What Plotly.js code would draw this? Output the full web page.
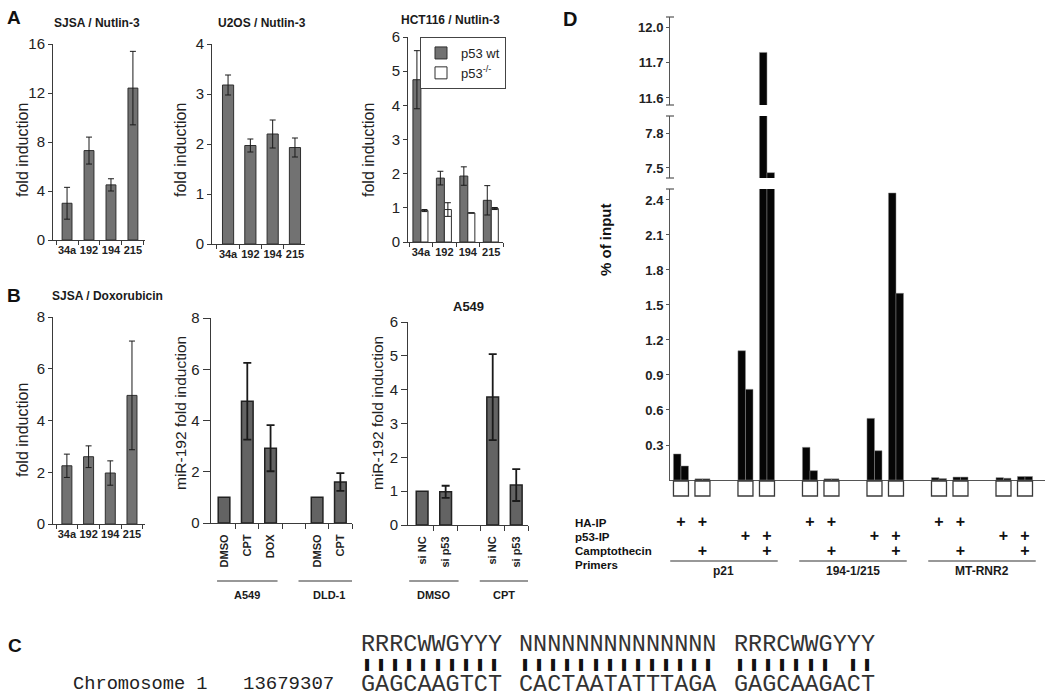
<!DOCTYPE html>
<html><head><meta charset="utf-8">
<script src="https://cdn.plot.ly/plotly-3.0.1.min.js"></script>
<style>html,body{margin:0;padding:0;background:#fff}#chart{width:1050px;height:699px}</style>
</head><body><div id="chart"></div>
<script>
// ---------------- data ----------------
const mirs = ['34a', '192', '194', '215'];
const sjsaNutlin = [3.0, 7.3, 4.5, 12.4];
const sjsaNutlinErr = [1.3, 1.1, 0.5, 3.0];
const u2osNutlin = [3.18, 1.97, 2.2, 1.93];
const u2osNutlinErr = [0.2, 0.13, 0.28, 0.19];
const hctWt = [4.75, 1.87, 1.93, 1.22];
const hctWtErr = [0.85, 0.2, 0.27, 0.43];
const hctNull = [0.92, 0.95, 0.85, 0.98];
const hctNullErr = [0.03, 0.2, 0.0, 0.03];
const sjsaDox = [2.25, 2.6, 1.97, 4.97];
const sjsaDoxErr = [0.45, 0.42, 0.47, 2.1];
const drugTreat = ['DMSO', 'CPT', 'DOX', 'DMSO', 'CPT'];
const drugCell = ['A549', 'A549', 'A549', 'DLD-1', 'DLD-1'];
const mir192Drug = [1.0, 4.75, 2.92, 1.0, 1.6];
const mir192DrugErr = [null, 1.5, 0.9, null, 0.35];
const siRNA = ['si NC', 'si p53', 'si NC', 'si p53'];
const siTreat = ['DMSO', 'DMSO', 'CPT', 'CPT'];
const mir192Si = [1.0, 0.98, 3.78, 1.18];
const mir192SiErr = [null, 0.18, 1.27, 0.47];
const chipPrimers = ['p21', '194-1/215', 'MT-RNR2'];
const chipHA = [1, 1, 0, 0];
const chipP53 = [0, 0, 1, 1];
const chipCPT = [0, 1, 0, 1];
const chipRep1 = [0.223, 0.01, 1.108, 11.73, 0.28, 0.01, 0.528, 2.46, 0.02, 0.025, 0.02, 0.03];
const chipRep2 = [0.12, 0.01, 0.777, 7.46, 0.08, 0.01, 0.251, 1.6, 0.012, 0.025, 0.015, 0.03];
const motif = ['RRRCWWGYYY', 'NNNNNNNNNNNNNN', 'RRRCWWGYYY'];
const genomic = ['GAGCAAGTCT', 'CACTAATATTTAGA', 'GAGCAAGACT'];
const chromLabel = 'Chromosome 1';
const chromPos = '13679307';

// ---------------- helpers ----------------
const W = 1050, H = 699;
const xd = (a, b) => [a / W, b / W];
const yd = (t, b) => [1 - b / H, 1 - t / H];
const PX = x => x / W, PY = y => 1 - y / H;
const FONT = 'Liberation Sans, Arial, sans-serif';
const MONO = 'Liberation Mono, Courier New, monospace';
const nanify = a => a.map(v => v == null ? NaN : v);

function groupPositions(groups) {
  let g = -1, prev = null; const pos = [];
  groups.forEach((v, i) => { if (v !== prev) { g++; prev = v; } pos.push(i + g); });
  return pos;
}

function bar(x, y, err, xa, ya, extra) {
  const t = {
    type: 'bar', x: x, y: y, xaxis: xa, yaxis: ya, showlegend: false,
    marker: {color: '#727272', line: {color: '#2e2e2e', width: 1}},
    error_y: {type: 'data', array: nanify(err), visible: true, color: '#1a1a1a', thickness: 1, width: 3}
  };
  return Object.assign(t, extra || {});
}

const baseAx = {
  showline: true, linecolor: '#3a3a3a', linewidth: 1, showgrid: false, zeroline: false,
  ticks: 'outside', tickcolor: '#3a3a3a', ticklen: 4,
  tickfont: {family: FONT, size: 15, color: '#222'}
};
const catAx = Object.assign({}, baseAx, {
  type: 'category', categoryorder: 'array', categoryarray: mirs, tickson: 'boundaries',
  ticklen: 4, tickangle: 0, tickfont: {family: FONT, size: 11, color: '#222', weight: 'bold'}
});

const traces = [];
// A1
traces.push(bar(mirs, sjsaNutlin, sjsaNutlinErr, 'x', 'y', {width: 0.45}));
// A2
traces.push(bar(mirs, u2osNutlin, u2osNutlinErr, 'x2', 'y2', {width: 0.5}));
// A3
traces.push(bar(mirs, hctWt, hctWtErr, 'x3', 'y3', {width: 0.34, offset: -0.34, name: 'p53 wt', showlegend: true}));
traces.push(bar(mirs, hctNull, hctNullErr, 'x3', 'y3', {width: 0.3, offset: 0, name: 'p53<sup>-/-</sup>', showlegend: true,
  marker: {color: '#ffffff', line: {color: '#2e2e2e', width: 1}}}));
// B1
traces.push(bar(mirs, sjsaDox, sjsaDoxErr, 'x4', 'y4', {width: 0.46}));
// B2
const drugPos = groupPositions(drugCell);
traces.push(bar(drugPos, mir192Drug, mir192DrugErr, 'x5', 'y5', {width: 0.5,
  marker: {color: '#636363', line: {color: '#222', width: 1.5}},
  error_y: {type: 'data', array: nanify(mir192DrugErr), visible: true, color: '#1a1a1a', thickness: 1.8, width: 4}}));
// B3
const siPos = groupPositions(siTreat);
traces.push(bar(siPos, mir192Si, mir192SiErr, 'x6', 'y6', {width: 0.5,
  marker: {color: '#636363', line: {color: '#222', width: 1.5}},
  error_y: {type: 'data', array: nanify(mir192SiErr), visible: true, color: '#1a1a1a', thickness: 1.8, width: 4}}));

// D
const condSlot = chipHA.map((h, k) => k + chipP53[k]);
const groupStride = condSlot[condSlot.length - 1] + 2;
const chipX = [], chipGroup = [], flagHA = [], flagP53 = [], flagCPT = [];
chipPrimers.forEach((p, g) => condSlot.forEach((s, k) => {
  chipX.push(g * groupStride + s); chipGroup.push(p);
  flagHA.push(chipHA[k]); flagP53.push(chipP53[k]); flagCPT.push(chipCPT[k]);
}));
['y7', 'y8', 'y9'].forEach(ya => {
  [[chipRep1, -0.35], [chipRep2, 0]].forEach(([vals, off]) => {
    traces.push({type: 'bar', x: chipX, y: vals, xaxis: 'x7', yaxis: ya, width: 0.35, offset: off,
      showlegend: false, marker: {color: '#060606', line: {color: '#8a8a8a', width: 0.5}}});
  });
});
// rows below the ChIP axis live on a hidden helper axis (y10) measured in page rows
traces.push({type: 'scatter', mode: 'markers', x: chipX, y: chipX.map(() => 488.5), xaxis: 'x7', yaxis: 'y10',
  showlegend: false, hoverinfo: 'skip',
  marker: {symbol: 'square-open', size: 15, color: '#3a3a3a', line: {width: 1.3}}});
[[flagHA, 523], [flagP53, 537], [flagCPT, 552]].forEach(([flags, py]) => {
  const xs = chipX.filter((x, i) => flags[i]);
  traces.push({type: 'scatter', mode: 'text', x: xs, y: xs.map(() => py), text: xs.map(() => '<b>+</b>'),
    xaxis: 'x7', yaxis: 'y10', cliponaxis: false, showlegend: false, hoverinfo: 'skip',
    textfont: {family: FONT, size: 16, color: '#111'}});
});

// ---------------- layout ----------------
const dAx = Object.assign({}, baseAx, {ticklen: 3, linecolor: '#555', tickcolor: '#555',
  tickfont: {family: FONT, size: 13, color: '#222', weight: 'bold'}, anchor: 'x7'});
const bdry = pos => { const m = Math.max(...pos); const out = []; for (let i = 0; i <= m; i++) out.push(i + 0.5); return out; };
const rotAx = (pos, labels) => Object.assign({}, baseAx, {
  type: 'linear', tickmode: 'array', tickvals: pos, ticktext: labels, ticks: '', tickangle: -90,
  tickfont: {family: FONT, size: 11, color: '#222', weight: 'bold'}, ticklabelstandoff: 6,
  minor: {tickmode: 'array', tickvals: bdry(pos), ticks: 'outside', ticklen: 5, tickcolor: '#3a3a3a'}
});

const layout = {
  width: W, height: H, margin: {l: 0, r: 0, t: 0, b: 0},
  paper_bgcolor: '#ffffff', plot_bgcolor: 'rgba(0,0,0,0)',
  font: {family: FONT, color: '#222'},
  barmode: 'overlay', showlegend: true,
  legend: {x: PX(420), y: PY(37), xanchor: 'left', yanchor: 'top', bgcolor: '#fff', bordercolor: '#444', borderwidth: 1,
    font: {family: FONT, size: 13, color: '#222'}, itemwidth: 30, tracegroupgap: 0},
  xaxis: Object.assign({}, catAx, {domain: xd(53, 145), anchor: 'y', range: [-0.64, 3.55]}),
  yaxis: Object.assign({}, baseAx, {domain: yd(44, 240), anchor: 'x', range: [0, 16], dtick: 4}),
  xaxis2: Object.assign({}, catAx, {domain: xd(212, 305), anchor: 'y2', range: [-0.72, 3.45]}),
  yaxis2: Object.assign({}, baseAx, {domain: yd(44, 244), anchor: 'x2', range: [0, 4], dtick: 1}),
  xaxis3: Object.assign({}, catAx, {domain: xd(408, 503), anchor: 'y3', range: [-0.55, 3.5]}),
  yaxis3: Object.assign({}, baseAx, {domain: yd(37, 242), anchor: 'x3', range: [0, 6], dtick: 1}),
  xaxis4: Object.assign({}, catAx, {domain: xd(53, 145), anchor: 'y4', range: [-0.64, 3.6]}),
  yaxis4: Object.assign({}, baseAx, {domain: yd(317, 524), anchor: 'x4', range: [0, 8], dtick: 2}),
  xaxis5: Object.assign(rotAx(drugPos, drugTreat), {domain: xd(211, 352), anchor: 'y5', range: [-0.56, 5.5]}),
  yaxis5: Object.assign({}, baseAx, {domain: yd(318, 523), anchor: 'x5', range: [0, 8], dtick: 2, ticklen: 7, linewidth: 1.3}),
  xaxis6: Object.assign(rotAx(siPos, siRNA), {domain: xd(408, 528), anchor: 'y6', range: [-0.6, 4.5]}),
  yaxis6: Object.assign({}, baseAx, {domain: yd(322, 525), anchor: 'x6', range: [0, 6], dtick: 1, ticklen: 6}),
  xaxis7: {domain: xd(670, 1045), anchor: 'y7', range: [-0.51, 16.93], showline: true, linecolor: '#555', linewidth: 1.2,
    showticklabels: false, ticks: '', showgrid: false, zeroline: false},
  yaxis7: Object.assign({}, dAx, {domain: yd(189, 480), range: [0, 2.494], tickmode: 'array',
    tickvals: [0.3, 0.6, 0.9, 1.2, 1.5, 1.8, 2.1, 2.4], ticktext: ['0.3', '0.6', '0.9', '1.2', '1.5', '1.8', '2.1', '2.4']}),
  yaxis8: Object.assign({}, dAx, {domain: yd(116, 178), range: [7.414, 7.946], tickmode: 'array',
    tickvals: [7.5, 7.8], ticktext: ['7.5', '7.8']}),
  yaxis9: Object.assign({}, dAx, {domain: yd(17, 105), range: [11.58, 11.831], tickmode: 'array',
    tickvals: [11.6, 11.7, 11.8], ticktext: ['11.6', '11.7', '12.0']}),
  yaxis10: {domain: yd(480, 580), range: [580, 480], anchor: 'x7', visible: false, showgrid: false, zeroline: false},
  annotations: [], shapes: []
};

const A = layout.annotations, S = layout.shapes;
function ann(text, x, y, opts) {
  A.push(Object.assign({text: text, x: PX(x), y: PY(y), xref: 'paper', yref: 'paper', showarrow: false,
    xanchor: 'center', yanchor: 'middle', font: {family: FONT, size: 12, color: '#1a1a1a'}}, opts || {}));
}
// panel letters
ann('<b>A</b>', 14, 18, {font: {family: FONT, size: 19, color: '#111'}});
ann('<b>B</b>', 14, 295, {font: {family: FONT, size: 19, color: '#111'}});
ann('<b>C</b>', 15, 645, {font: {family: FONT, size: 19, color: '#111'}});
ann('<b>D</b>', 570, 19, {font: {family: FONT, size: 20, color: '#111'}});
// titles
ann('<b>SJSA / Nutlin-3</b>', 97, 23);
ann('<b>U2OS / Nutlin-3</b>', 262, 23);
ann('<b>HCT116 / Nutlin-3</b>', 450, 20);
ann('<b>SJSA / Doxorubicin</b>', 107, 296);
ann('<b>A549</b>', 468, 307, {font: {family: FONT, size: 13, color: '#1a1a1a'}});
// y titles
const yt = {textangle: -90, font: {family: FONT, size: 16, color: '#222'}};
ann('fold induction', 22, 150, yt);
ann('fold induction', 180, 150, yt);
ann('fold induction', 368, 150, yt);
ann('fold induction', 22, 430, yt);
ann('miR-192 fold induction', 180, 413, {textangle: -90, font: {family: FONT, size: 15.5, color: '#222'}});
ann('miR-192 fold induction', 377, 413, {textangle: -90, font: {family: FONT, size: 15.5, color: '#222'}});
ann('<b>% of input</b>', 605, 240, {textangle: -90, font: {family: FONT, size: 15, color: '#111'}});

// group underlines + labels for B2, B3
function groupLines(groups, pos, xref, half, lineY, labY) {
  const uniq = [...new Set(groups)];
  uniq.forEach(g => {
    const ps = pos.filter((p, i) => groups[i] === g);
    const c = (Math.min(...ps) + Math.max(...ps)) / 2;
    S.push({type: 'line', xref: xref, yref: 'paper', x0: c - half, x1: c + half, y0: PY(lineY), y1: PY(lineY),
      line: {color: '#333', width: 1.2}});
    A.push({text: '<b>' + g + '</b>', x: c, y: PY(labY), xref: xref, yref: 'paper', showarrow: false,
      xanchor: 'center', yanchor: 'middle', font: {family: FONT, size: 11, color: '#1a1a1a'}});
  });
}
groupLines(drugCell, drugPos, 'x5', 1.3, 581, 595);
groupLines(siTreat, siPos, 'x6', 1.05, 581, 595);

// D: primer underlines and labels
chipPrimers.forEach(p => {
  const ps = chipX.filter((x, i) => chipGroup[i] === p);
  const lo = Math.min(...ps) - 0.5, hi = Math.max(...ps) + 0.5;
  S.push({type: 'line', xref: 'x7', yref: 'paper', x0: lo, x1: hi, y0: PY(561), y1: PY(561), line: {color: '#333', width: 1.2}});
  A.push({text: '<b>' + p + '</b>', x: (lo + hi) / 2, y: PY(571), xref: 'x7', yref: 'paper', showarrow: false,
    xanchor: 'center', yanchor: 'middle', font: {family: FONT, size: 12, color: '#1a1a1a'}});
});
[['HA-IP', 523], ['p53-IP', 537], ['Camptothecin', 551], ['Primers', 565]].forEach(([t, y]) =>
  ann('<b>' + t + '</b>', 573, y, {xanchor: 'left', font: {family: FONT, size: 11.5, color: '#111'}}));
// D axis break caps
[17, 105, 116, 178, 189].forEach(y => S.push({type: 'line', xref: 'paper', yref: 'paper', x0: PX(666), x1: PX(674),
  y0: PY(y), y1: PY(y), line: {color: '#555', width: 1.2}}));

// Panel C: motif alignment
const iupac = {A: 'A', C: 'C', G: 'G', T: 'T', R: 'AG', Y: 'CT', W: 'AT', S: 'CG', K: 'GT', M: 'AC', N: 'ACGT'};
const seqStart = [360, 518, 733];
const charW = 14.1;
motif.forEach((m, g) => {
  ann(m, seqStart[g] - 1, 644, {xanchor: 'left', font: {family: MONO, size: 23.5, color: '#333'}});
  ann(genomic[g], seqStart[g] - 1, 684, {xanchor: 'left', font: {family: MONO, size: 23.5, color: '#333'}});
  m.split('').forEach((c, i) => {
    if (iupac[c].indexOf(genomic[g][i]) >= 0) {
      ann('\u275A', seqStart[g] + (i + 0.5) * charW, 664, {font: {family: 'DejaVu Sans, sans-serif', size: 12, color: '#111'}});
    }
  });
});
ann(chromLabel, 71, 684, {xanchor: 'left', font: {family: MONO, size: 18.7, color: '#222'}});
ann(chromPos, 241, 684, {xanchor: 'left', font: {family: MONO, size: 19, color: '#222'}});

Plotly.newPlot('chart', traces, layout, {staticPlot: true, displayModeBar: false});
</script>
</body></html>
